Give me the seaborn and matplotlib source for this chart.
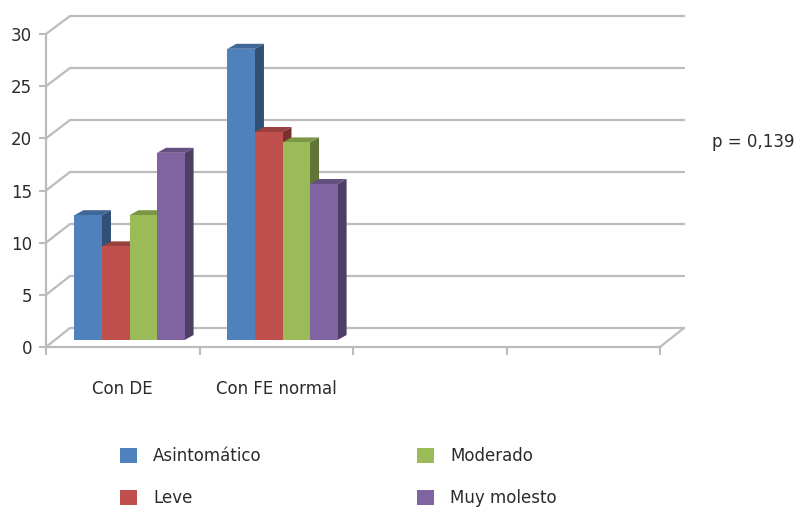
import numpy as np
import pandas as pd
import seaborn as sns
import matplotlib.pyplot as plt
from matplotlib.patches import Patch, Polygon
from matplotlib.lines import Line2D
import matplotlib.colors as mcolors

sns.set_theme(style="white")
plt.rcParams['font.family'] = ['DejaVu Sans']

# data
grupos = ["Con DE", "Con FE normal"]
niveles = ["Asintomático", "Leve", "Moderado", "Muy molesto"]
asintomatico = [12, 28]
leve = [9, 20]
moderado = [12, 19]
muy_molesto = [18, 15]
colores = ["#4F81BD", "#C0504D", "#9BBB59", "#8064A2"]
p_texto = "p = 0,139"

df = pd.DataFrame({
    "grupo": grupos * 4,
    "nivel": [n for n in niveles for _ in grupos],
    "valor": asintomatico + leve + moderado + muy_molesto,
})
paleta = dict(zip(niveles, colores))

W, H = 801, 507
fig = plt.figure(figsize=(W / 100, H / 100), dpi=100)
fig.patch.set_facecolor("white")


def rect(left, top, right, bottom):
    return [left / W, 1 - bottom / H, (right - left) / W, (bottom - top) / H]


grid_col = "#bcbcbc"
txt_col = "#2b2b2b"
fs = 12
yticks = np.arange(0, 31, 5)

# back wall with gridlines
ax_back = fig.add_axes(rect(70, 16, 684, 328))
ax_back.set_xlim(-0.5, 3.5)
ax_back.set_ylim(0, 30)
ax_back.set_yticks(yticks)
ax_back.set_xticks([])
ax_back.tick_params(left=False, labelleft=False)
ax_back.yaxis.grid(True, color=grid_col, lw=1.6)
for s in ax_back.spines.values():
    s.set_visible(False)
for gl in ax_back.get_ygridlines():
    gl.set_clip_on(False)

# bars
ax_bar = fig.add_axes(rect(53, 28, 665, 340))
ax_bar.patch.set_alpha(0)
sns.barplot(data=df, x="grupo", y="valor", hue="nivel", order=grupos,
            hue_order=niveles, palette=paleta, width=0.72, saturation=1,
            linewidth=0, legend=False, ax=ax_bar)
ax_bar.set_xlim(-0.5, 3.5)
ax_bar.set_ylim(0, 30)
ax_bar.axis("off")

# 3D faces for each bar
dx, dy = 9, 5
for patch in ax_bar.patches:
    x0, x1 = patch.get_x(), patch.get_x() + patch.get_width()
    h = patch.get_height()
    c = np.array(mcolors.to_rgb(patch.get_facecolor()))
    (px0, py0), (px1, py1) = ax_bar.transData.transform([(x0, 0), (x1, h)])
    side = Polygon([(px1, py0), (px1, py1), (px1 + dx, py1 + dy), (px1 + dx, py0 + dy)],
                   closed=True, facecolor=c * 0.62, edgecolor="none",
                   transform=None, zorder=0.5, clip_on=False)
    top = Polygon([(px0, py1), (px1, py1), (px1 + dx, py1 + dy), (px0 + dx, py1 + dy)],
                  closed=True, facecolor=c * 0.8, edgecolor="none",
                  transform=None, zorder=0.5, clip_on=False)
    ax_bar.add_artist(side)
    ax_bar.add_artist(top)

# front axes with ticks and labels
ax_front = fig.add_axes(rect(46, 34, 660, 347))
ax_front.patch.set_alpha(0)
ax_front.set_xlim(-0.5, 3.5)
ax_front.set_ylim(0, 30)
ax_front.set_yticks(yticks)
ax_front.set_yticklabels([str(v) for v in yticks], fontsize=fs, color=txt_col)
ax_front.set_xticks(np.arange(-0.5, 4, 1))
ax_front.set_xticklabels([])
ax_front.set_xticks([0, 1], minor=True)
ax_front.set_xticklabels(grupos, minor=True, fontsize=fs, color=txt_col)
ax_front.tick_params(axis="y", direction="out", length=5, width=1.5, color=grid_col, pad=5, left=True)
ax_front.tick_params(axis="x", which="major", direction="out", length=6, width=1.5, color=grid_col, bottom=True)
ax_front.tick_params(axis="x", which="minor", length=0, pad=24)
for k, s in ax_front.spines.items():
    if k in ("left", "bottom"):
        s.set_color(grid_col)
        s.set_linewidth(1.6)
    else:
        s.set_visible(False)

# diagonal edges joining front axes and back wall
for v in yticks:
    f = ax_front.transData.transform((-0.5, v))
    b = ax_back.transData.transform((-0.5, v))
    fig.add_artist(Line2D([f[0], b[0]], [f[1], b[1]], color=grid_col, lw=1.6, transform=None))
f = ax_front.transData.transform((3.5, 0))
b = ax_back.transData.transform((3.5, 0))
fig.add_artist(Line2D([f[0], b[0]], [f[1], b[1]], color=grid_col, lw=1.6, transform=None))

fig.text(712 / W, 1 - 142 / H, p_texto, fontsize=fs, color=txt_col, ha="left", va="center")

handles = [Patch(facecolor=paleta[n], edgecolor="none") for n in niveles]
fig.legend(handles, niveles, ncol=2, loc="upper left", bbox_to_anchor=(120 / W, 1 - 447 / H),
           frameon=False, fontsize=fs, handlelength=1.0, handleheight=1.0,
           handletextpad=1.0, labelspacing=1.45, columnspacing=9.3,
           borderpad=0, borderaxespad=0, labelcolor=txt_col)

fig.savefig("out.png", dpi=100, facecolor="white")
